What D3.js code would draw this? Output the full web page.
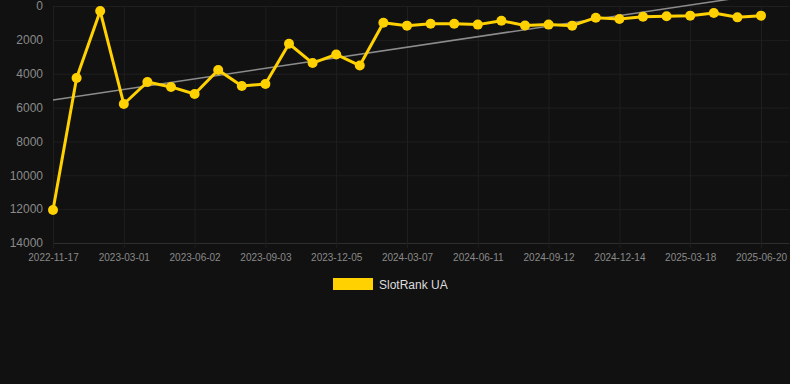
<!DOCTYPE html>
<html>
<head>
<meta charset="utf-8">
<script src="https://cdn.jsdelivr.net/npm/d3@7"></script>
<style>
  html, body { margin: 0; padding: 0; background: #111111; }
  svg { display: block; font-family: Arial, "Liberation Sans", sans-serif; }
</style>
</head>
<body>
<svg id="chart" width="790" height="384"></svg>
<script>
const dates = [
  '2022-11-17', '2022-12-19', '2023-01-27', '2023-03-01', '2023-04-01', '2023-05-02',
  '2023-06-02', '2023-07-03', '2023-08-03', '2023-09-03', '2023-10-04', '2023-11-04',
  '2023-12-05', '2024-01-05', '2024-02-05', '2024-03-07', '2024-04-08', '2024-05-10',
  '2024-06-11', '2024-07-13', '2024-08-12', '2024-09-12', '2024-10-13', '2024-11-13',
  '2024-12-14', '2025-01-14', '2025-02-15', '2025-03-18', '2025-04-18', '2025-05-19',
  '2025-06-20'
];
const rankValues = [
  12050, 4250, 300, 5790, 4490, 4780,
  5200, 3780, 4730, 4610, 2230, 3370,
  2860, 3520, 985, 1160, 1045, 1045,
  1100, 870, 1150, 1100, 1160, 690,
  770, 630, 610, 570, 410, 670,
  570
];
const trendEnds = [5550, -680];
const yTicks = [0, 2000, 4000, 6000, 8000, 10000, 12000, 14000];
const seriesName = 'SlotRank UA';

const svg = d3.select('#chart');
const plotLeft = 53, plotRight = 761, plotTop = 6, plotBottom = 243;

const x = d3.scalePoint().domain(dates).range([plotLeft, plotRight]);
const y = d3.scaleLinear().domain([0, 14000]).range([plotTop, plotBottom]);
const labelDates = dates.filter((d, i) => i % 3 === 0);

// grid
svg.append('g').selectAll('line').data(yTicks).enter().append('line')
  .attr('x1', plotLeft).attr('x2', plotRight + 28)
  .attr('y1', d => y(d) + 0.5).attr('y2', d => y(d) + 0.5)
  .attr('stroke', d => d === 14000 ? '#2e2e2e' : '#1f1f1f').attr('stroke-width', 1);
svg.append('g').selectAll('line').data(labelDates).enter().append('line')
  .attr('x1', d => x(d) + 0.5).attr('x2', d => x(d) + 0.5)
  .attr('y1', plotTop).attr('y2', plotBottom + 5)
  .attr('stroke', '#1f1f1f').attr('stroke-width', 1);

// y axis labels
const yAxis = svg.append('g').attr('transform', `translate(${plotLeft - 10},0)`)
  .call(d3.axisLeft(y).tickValues(yTicks).tickSize(0).tickPadding(0).tickFormat(d3.format('d')));
yAxis.select('.domain').remove();
yAxis.selectAll('text').attr('fill', '#8a8a8a').attr('font-size', 12);

// x axis labels
const xAxis = svg.append('g').attr('transform', `translate(0,${plotBottom + 8})`)
  .call(d3.axisBottom(x).tickValues(labelDates).tickSize(0).tickPadding(3));
xAxis.select('.domain').remove();
xAxis.selectAll('text').attr('fill', '#8a8a8a').attr('font-size', 10);

// trend line
svg.append('line')
  .attr('x1', x(dates[0])).attr('y1', y(trendEnds[0]))
  .attr('x2', x(dates[dates.length - 1])).attr('y2', y(trendEnds[1]))
  .attr('stroke', '#8c8c8c').attr('stroke-width', 1.5);

// series
const line = d3.line().x((d, i) => x(dates[i])).y(d => y(d));
svg.append('path').datum(rankValues)
  .attr('d', line).attr('fill', 'none')
  .attr('stroke', '#ffd100').attr('stroke-width', 3).attr('stroke-linejoin', 'round');
svg.append('g').selectAll('circle').data(rankValues).enter().append('circle')
  .attr('cx', (d, i) => x(dates[i])).attr('cy', d => y(d)).attr('r', 5)
  .attr('fill', '#ffd100');

// legend
const legend = svg.append('g');
legend.append('rect').attr('x', 333).attr('y', 278).attr('width', 40).attr('height', 12)
  .attr('fill', '#ffd100');
legend.append('text').attr('x', 379).attr('y', 288.5).attr('font-size', 12)
  .attr('fill', '#dddddd').text(seriesName);
</script>
</body>
</html>
